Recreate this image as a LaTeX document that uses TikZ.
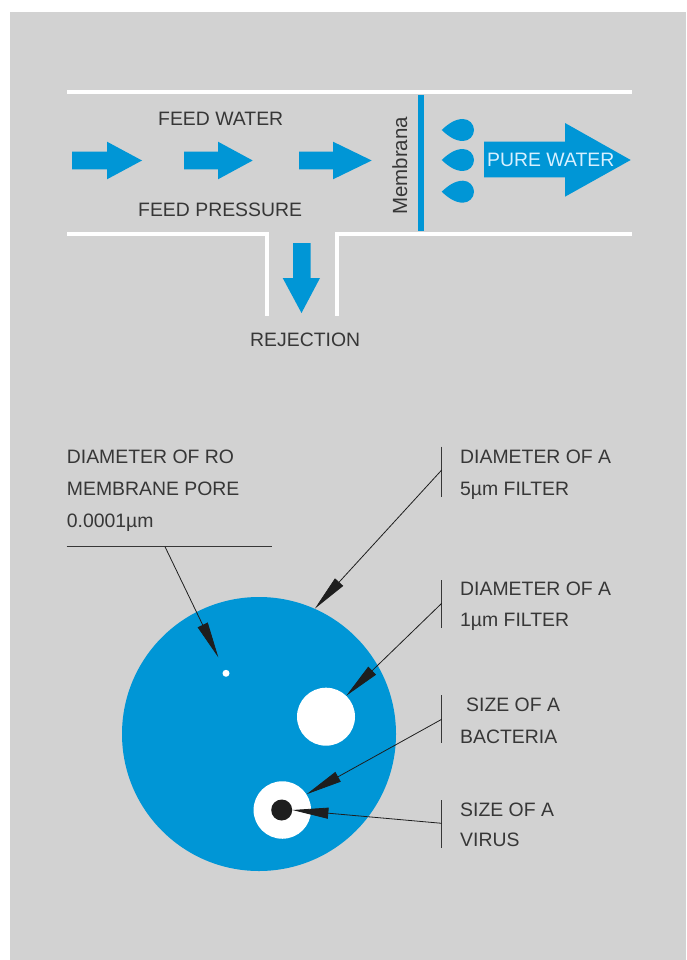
\documentclass[tikz,border=0pt]{standalone}
\usepackage{fontspec}
\setmainfont{Liberation Sans}
\usetikzlibrary{arrows.meta}
\definecolor{bg}{RGB}{210,210,210}
\definecolor{wblue}{RGB}{0,150,214}
\definecolor{ink}{RGB}{55,55,55}
\definecolor{dark}{RGB}{30,30,30}
\definecolor{pale}{RGB}{215,240,255}
\begin{document}
\begin{tikzpicture}[x=1pt,y=-1pt,
  lbl/.style={anchor=base west, inner sep=0pt, text=ink, font=\fontsize{19.4}{23}\selectfont},
  pipe/.style={draw=white, line width=4pt},
  ptr/.style={draw=dark, line width=0.8pt, -{Triangle[length=36pt,width=11pt]}},
  bracket/.style={draw=ink, line width=0.8pt},
  flow/.style={fill=wblue},
  disc/.style={circle, inner sep=0pt, draw=none},
  drop/.style={fill=wblue}
  ]
\useasboundingbox (0,0) rectangle (686,960);
\fill[white] (0,0) rectangle (686,960);
\fill[bg] (10,12) rectangle (686,960);

% pipe walls
\draw[pipe] (67,91.7) -- (632,91.7);
\draw[pipe] (67,234) -- (266.7,234) -- (266.7,316);
\draw[pipe] (337,316) -- (337,234) -- (632,234);

% membrane
\draw[wblue, line width=6pt] (421,95) -- (421,231);

% feed arrows
\fill[flow] (72,151.7) -- (107,151.7) -- (107,141.7) -- (142,160.5) -- (107,179.3) -- (107,169.3) -- (72,169.3) -- cycle;
\fill[flow] (184,151.7) -- (218,151.7) -- (218,141.7) -- (252.7,160.5) -- (218,179.3) -- (218,169.3) -- (184,169.3) -- cycle;
\fill[flow] (299,151.7) -- (333,151.7) -- (333,141.7) -- (371.7,160.5) -- (333,179.3) -- (333,169.3) -- (299,169.3) -- cycle;

% pure water arrow
\fill[flow] (484,141.7) -- (565,141.7) -- (565,123) -- (630.7,160) -- (565,196.7) -- (565,177.3) -- (484,177.3) -- cycle;

% rejection arrow
\fill[flow] (293,243) -- (310.7,243) -- (310.7,278) -- (320,278) -- (301.5,313) -- (282.7,278) -- (293,278) -- cycle;

% drops
\foreach \cy in {130,160,191.7}{
  \fill[drop] (441.7,\cy) .. controls (448,\cy-6) and (455,\cy-11) .. (463,\cy-11)
    .. controls (469,\cy-11) and (474,\cy-6) .. (474,\cy)
    .. controls (474,\cy+6) and (469,\cy+11) .. (463,\cy+11)
    .. controls (455,\cy+11) and (448,\cy+6) .. cycle;
}

% top texts
\node[lbl] (fw) at (158,126) {FEED WATER};
\node[lbl] (fp) at (138,216.5) {FEED PRESSURE};
\node[lbl] (rej) at (250,346.5) {REJECTION};
\node[lbl, text=pale] (pw) at (487,167) {PURE WATER};
\node[lbl, rotate=90, font=\fontsize{20.5}{24}\selectfont] (mem) at (407,215) {Membrana};

% circles
\node[disc, fill=wblue, minimum size=274pt] (f5) at (259,734) {};
\node[disc, fill=white, minimum size=58pt] (f1) at (326,716.7) {};
\node[disc, fill=white, minimum size=57.5pt] (bac) at (282.3,810) {};
\node[disc, fill=dark, minimum size=21pt] (vir) at (281.7,810) {};
\node[disc, fill=white, minimum size=7pt] (pore) at (226,673.3) {};

% RO label
\node[lbl] (ro1) at (66.7,463.3) {DIAMETER OF RO};
\node[lbl] (ro2) at (66.7,495.5) {MEMBRANE PORE};
\node[lbl] (ro3) at (66.7,527.3) {0.0001µm};
\draw[draw=ink, line width=1pt] (66.7,546.7) -- (271.7,546.7);
\coordinate (roc) at (165,546.7);
\draw[ptr, shorten >=14pt] (roc) -- (pore);

% right labels
\node[lbl] (l5a) at (460,463.3) {DIAMETER OF A};
\node[lbl] (l5b) at (460,495) {5µm FILTER};
\node[lbl] (l1a) at (460,595) {DIAMETER OF A};
\node[lbl] (l1b) at (460,626.7) {1µm FILTER};
\node[lbl] (lba) at (466,711.7) {SIZE OF A};
\node[lbl] (lbb) at (460,743.3) {BACTERIA};
\node[lbl] (lva) at (460,816.7) {SIZE OF A};
\node[lbl] (lvb) at (460,846.7) {VIRUS};

% brackets
\draw[bracket] (441.7,446.7) -- (441.7,496.7);
\draw[bracket] (441.7,580) -- (441.7,628);
\draw[bracket] (441.7,695) -- (441.7,743.3);
\draw[bracket] (441.7,800) -- (441.7,848.3);
\coordinate (b5) at (441.7,470);
\coordinate (b1) at (441.7,603.3);
\coordinate (bb) at (441.7,719.3);
\coordinate (bv) at (441.7,823.3);

% pointers
\draw[ptr] (b5) -- (f5.66);
\draw[ptr] (b1) -- (f1.46);
\draw[ptr] (bb) -- (bac.33);
\draw[ptr] (bv) -- (vir.east);
\end{tikzpicture}
\end{document}
